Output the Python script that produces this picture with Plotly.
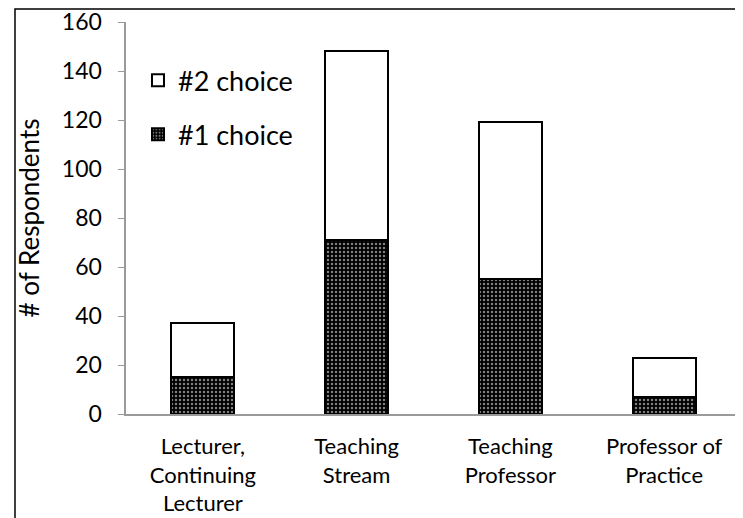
import plotly.graph_objects as go

categories = ["Lecturer,<br>Continuing<br>Lecturer", "Teaching<br>Stream", "Teaching<br>Professor", "Professor of<br>Practice"]
choice1 = [15, 71, 55, 7]
choice2_total = [37, 148, 119, 23]
choice2 = [t - a for t, a in zip(choice2_total, choice1)]
y_title = "# of Respondents"
y_tick_values = [0, 20, 40, 60, 80, 100, 120, 140, 160]
y_tick_labels = [str(v) + "\u00a0\u00a0" for v in y_tick_values]

FONT = "Lato"

fig = go.Figure()
fig.add_trace(go.Bar(
    x=categories, y=choice1, name="#1 choice", legendgroup="g1", legendrank=2,
    width=0.41,
    marker=dict(color="black", line=dict(color="black", width=2),
                pattern=dict(shape=".", fgcolor="white", bgcolor="black", size=4, solidity=0.3)),
))
fig.add_trace(go.Bar(
    x=categories, y=choice2, name="#2 choice", legendgroup="g2", legendrank=1,
    width=0.41,
    marker=dict(color="white", line=dict(color="black", width=2)),
))

fig.update_layout(
    barmode="stack",
    width=743, height=518,
    margin=dict(l=118, r=10, t=14, b=112, autoexpand=False),
    paper_bgcolor="white", plot_bgcolor="white",
    font=dict(family=FONT, size=22, color="black"),
    showlegend=True,
    legend=dict(x=0.0195, y=0.913, xanchor="left", yanchor="top",
                traceorder="grouped", tracegroupgap=16,
                font=dict(size=27), bgcolor="rgba(0,0,0,0)"),
    xaxis=dict(showline=True, linecolor="#9a9a9a", linewidth=1.5, ticks="",
               tickfont=dict(size=22), showgrid=False, zeroline=False,
               ticklabelstandoff=12, automargin=False),
    yaxis=dict(range=[0, 160], tickmode="array", tickvals=y_tick_values, ticktext=y_tick_labels,
               showline=True, linecolor="#9a9a9a", linewidth=1.5,
               ticks="outside", ticklen=6, tickcolor="#9a9a9a", showgrid=False, zeroline=False,
               tickfont=dict(size=23),
               ticklabeloverflow="allow", automargin=False),
    annotations=[dict(text=y_title, xref="paper", yref="paper", x=-0.157, y=0.5,
                      xanchor="center", yanchor="middle", textangle=-90, showarrow=False,
                      font=dict(size=26, family=FONT))],
    shapes=[dict(type="rect", xref="paper", yref="paper",
                 x0=-0.1805, x1=0.9935, y0=-0.5, y1=1.033,
                 line=dict(color="black", width=1.5), fillcolor="rgba(0,0,0,0)")],
)

fig.write_html("out.html")
